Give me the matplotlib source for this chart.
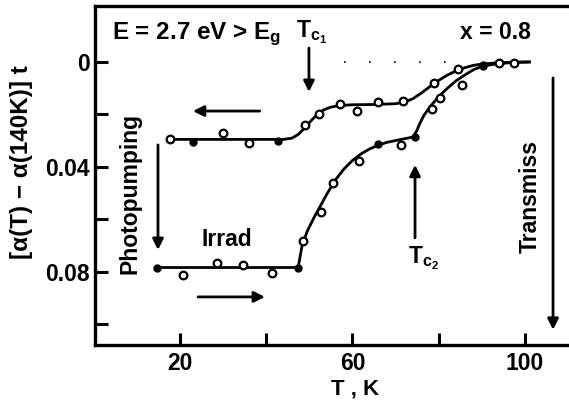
import matplotlib
matplotlib.use("Agg")
import matplotlib.pyplot as plt

plt.rcParams['font.family'] = ['Liberation Sans', 'DejaVu Sans']
plt.rcParams['font.weight'] = 'bold'
plt.rcParams['mathtext.fontset'] = 'custom'
plt.rcParams['mathtext.rm'] = 'Liberation Sans:bold'
plt.rcParams['mathtext.it'] = 'Liberation Sans:bold'
plt.rcParams['mathtext.bf'] = 'Liberation Sans:bold'

# Cooling run (upper branch), measured points
cool_open_T = [17.7, 30.0, 36.0, 49.0, 52.2, 57.1, 61.0, 65.9, 71.7, 78.9, 84.5, 94.0, 97.5]
cool_open_v = [0.0293, 0.0270, 0.0309, 0.0240, 0.0198, 0.0160, 0.0187, 0.0152, 0.0149, 0.0080, 0.0027, 0.0005, 0.0003]
cool_fill_T = [23.0, 42.7, 90.3]
cool_fill_v = [0.0305, 0.0301, 0.0011]
# Cooling run, guide curve
cool_curve_T = [17.5, 30, 44, 46, 47.5, 49, 50.5, 52, 53.5, 55, 57, 60, 65, 70, 72, 74, 76, 78, 80, 82, 84, 86, 88, 90, 93, 97, 101]
cool_curve_v = [0.0295, 0.0295, 0.0295, 0.0290, 0.0275, 0.0250, 0.0222, 0.0197, 0.0181, 0.0172, 0.0166, 0.0163, 0.0162, 0.0159, 0.0153, 0.0140, 0.0118, 0.0093, 0.0070, 0.0050, 0.0034, 0.0022, 0.0013, 0.0008, 0.0004, 0.0001, 0.0]

# Heating run after irradiation (lower branch), measured points
heat_open_T = [20.7, 28.6, 34.6, 41.3, 48.5, 52.7, 55.5, 61.5, 71.2, 78.4, 80.3, 85.4]
heat_open_v = [0.0811, 0.0766, 0.0773, 0.0804, 0.0682, 0.0571, 0.0461, 0.0377, 0.0316, 0.0179, 0.0137, 0.0088]
heat_fill_T = [14.7, 47.4, 65.9, 74.5, 90.3]
heat_fill_v = [0.0783, 0.0783, 0.0312, 0.0286, 0.0015]
# Heating run, guide curve
heat_curve_T = [14.7, 30, 47.4, 48.3, 49.5, 51, 52.5, 54, 56, 58, 60, 62, 64, 66, 68, 71, 74, 74.8, 75.6, 76.5, 78, 80, 82, 84, 86, 88, 90, 93, 97, 101]
heat_curve_v = [0.0783, 0.0783, 0.0783, 0.0700, 0.0645, 0.0595, 0.0550, 0.0505, 0.0450, 0.0408, 0.0375, 0.0350, 0.0331, 0.0317, 0.0306, 0.0296, 0.0286, 0.0265, 0.0235, 0.0205, 0.0170, 0.0132, 0.0100, 0.0072, 0.0050, 0.0030, 0.0017, 0.0008, 0.0002, 0.0]

# Reference level
ref_T = [58, 84]
ref_v = [0.0, 0.0]

x_ticks = [20, 40, 60, 80, 100]
x_ticklabels = ['20', '', '60', '', '100']
y_ticks = [0.0, 0.02, 0.04, 0.06, 0.08, 0.10]
y_ticklabels = ['0', '', '0.04', '', '0.08', '']

fig = plt.figure(figsize=(5.69, 4.03), dpi=100)
ax = fig.add_axes([0.167, 0.144, 0.833, 0.841])

ax.plot(cool_curve_T, cool_curve_v, color='k', lw=2.0, zorder=2)
ax.plot(heat_curve_T, heat_curve_v, color='k', lw=2.0, zorder=2)
ax.plot(ref_T, ref_v, color='k', lw=1.2, linestyle=(0, (1, 14)), zorder=1)

for T, v in ((cool_open_T, cool_open_v), (heat_open_T, heat_open_v)):
    ax.plot(T, v, linestyle='none', marker='o', ms=5.5, mfc='white', mec='k', mew=1.6, zorder=3)
for T, v in ((cool_fill_T, cool_fill_v), (heat_fill_T, heat_fill_v)):
    ax.plot(T, v, linestyle='none', marker='o', ms=5, mfc='k', mec='k', zorder=3)

ax.set_xlim(0.3, 110.2)
ax.set_ylim(0.1078, -0.0213)
ax.set_xticks(x_ticks)
ax.set_xticklabels(x_ticklabels)
ax.set_yticks(y_ticks)
ax.set_yticklabels(y_ticklabels)
ax.tick_params(direction='in', length=9, width=2.2, labelsize=16.5)
ax.tick_params(axis='x', pad=5)
ax.tick_params(axis='y', pad=4)
for s in ('left', 'bottom', 'top'):
    ax.spines[s].set_linewidth(2.4)
ax.spines['right'].set_visible(False)

fig.text(355 / 569, 1 - 389 / 403, 'T , K', ha='center', va='center',
         fontsize=16, fontweight='bold')
fig.text(22 / 569, 1 - 162 / 403, r'[α(T) − α(140K)] t', rotation=90,
         ha='center', va='center', fontsize=17.5, fontweight='bold')

tk = dict(fontsize=16.5, fontweight='bold', color='k')
ax.text(4.2, -0.0086, r'E = 2.7 eV > E$_{\mathrm{g}}$', ha='left', va='baseline',
        fontsize=17.5, fontweight='bold')
ax.text(84.9, -0.0086, 'x = 0.8', ha='left', va='baseline', **tk)
ax.text(47.0, -0.0092, r'T$_{\mathrm{c}_1}$', ha='left', va='baseline', **tk)
ax.text(72.9, 0.0766, r'T$_{\mathrm{c}_2}$', ha='left', va='baseline', **tk)
ax.text(25.1, 0.0678, 'Irrad', ha='left', va='center', **tk)
ax.text(8.4, 0.050, 'Photopumping', rotation=90, ha='center', va='center', **tk)
ax.text(101.2, 0.0514, 'Transmiss', rotation=90, ha='center', va='center', **tk)

arrow = dict(arrowstyle='-|>', color='k', lw=2.0, mutation_scale=16, shrinkA=0, shrinkB=0)
ax.annotate('', xy=(23.0, 0.0187), xytext=(38.5, 0.0187), arrowprops=arrow)
ax.annotate('', xy=(39.7, 0.0895), xytext=(24.2, 0.0895), arrowprops=arrow)
ax.annotate('', xy=(49.9, 0.0114), xytext=(49.9, -0.0053), arrowprops=arrow)
ax.annotate('', xy=(74.5, 0.0392), xytext=(74.5, 0.0670), arrowprops=arrow)
ax.annotate('', xy=(14.9, 0.0716), xytext=(14.9, 0.0316), arrowprops=arrow)
ax.annotate('', xy=(106.5, 0.1020), xytext=(106.5, 0.0061), arrowprops=arrow)

fig.savefig('out.png', dpi=100)
